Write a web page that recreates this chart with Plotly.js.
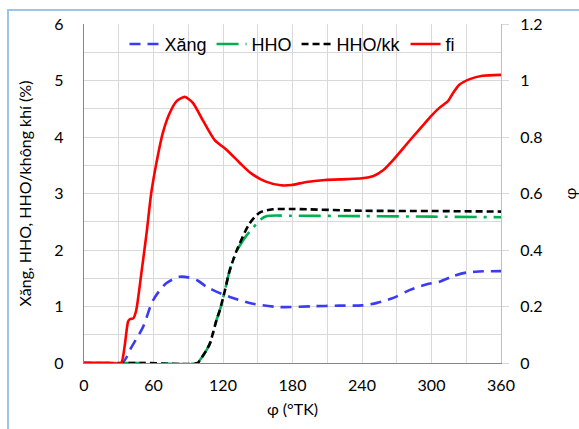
<!DOCTYPE html>
<html>
<head>
<meta charset="utf-8">
<script src="https://cdn.plot.ly/plotly-3.0.1.min.js"></script>
<style>
html,body{margin:0;padding:0;background:#fff;overflow:hidden;width:579px;height:429px;}
#frame{position:absolute;left:7px;top:9px;width:600px;height:460px;border:2px solid #9dc3e6;box-sizing:border-box;}
#chart{position:absolute;left:0;top:0;width:579px;height:429px;}
svg text{font-variant-ligatures:none !important;}
</style>
</head>
<body>
<div id="frame"></div>
<div id="chart"></div>
<script>
// Crank angle (°TK) and values
const xangX = [0, 20, 33, 41, 51, 59.6, 71, 82.5, 90, 98, 105.7, 111.5, 125.8, 146, 169, 198, 220, 240, 253, 267, 281, 296, 307, 318.5, 330, 341, 360];
const xangY = [0, 0, 0, 0.28, 0.64, 1.11, 1.41, 1.525, 1.515, 1.46, 1.35, 1.29, 1.17, 1.05, 0.99, 1.005, 1.015, 1.02, 1.064, 1.153, 1.29, 1.395, 1.44, 1.537, 1.60, 1.62, 1.626];

const hhoX = [0, 50, 98, 100, 105.5, 108.6, 114.4, 117.2, 121.5, 125.8, 131.6, 134.5, 140, 145.5, 151.7, 158, 180, 240, 300, 360];
const hhoY = [0, 0, 0, 0.05, 0.22, 0.34, 0.76, 0.93, 1.27, 1.64, 1.97, 2.08, 2.25, 2.38, 2.53, 2.60, 2.605, 2.60, 2.59, 2.58];

const hhokkX = [0, 50, 98, 100, 105.5, 108.6, 114.4, 117.2, 121.5, 125.8, 131.6, 134.5, 143, 151.7, 163, 180, 240, 300, 360];
const hhokkY = [0, 0, 0, 0.05, 0.22, 0.34, 0.76, 0.93, 1.27, 1.64, 1.98, 2.12, 2.47, 2.66, 2.72, 2.725, 2.695, 2.69, 2.68];

const fiX = [0, 10, 20, 32, 35, 38, 39.5, 42.5, 45, 49.5, 54, 58, 62.5, 68, 74, 80, 87, 94, 103, 113, 123, 134.5, 144, 157, 170, 179, 192, 208, 227, 240, 250, 258.5, 267, 275.5, 284, 293, 300, 307, 314, 318.5, 324, 333, 344, 360];
const fiY = [0, 0, 0, 0, 0.057, 0.146, 0.155, 0.158, 0.185, 0.317, 0.459, 0.60, 0.708, 0.814, 0.885, 0.927, 0.942, 0.921, 0.856, 0.788, 0.755, 0.708, 0.672, 0.642, 0.629, 0.630, 0.641, 0.648, 0.651, 0.654, 0.662, 0.683, 0.719, 0.760, 0.801, 0.843, 0.876, 0.904, 0.926, 0.955, 0.985, 1.005, 1.017, 1.020];

const names = ['Xăng', 'HHO', 'HHO/kk', 'fi'];
const xTicks = [0, 60, 120, 180, 240, 300, 360];

const FONT = 'Lato, "Open Sans", sans-serif';
const LFONT = '"Liberation Sans", Arial, sans-serif';
const GRID = '#d9d9d9';

const traces = [
  {x: xangX, y: xangY, name: names[0], type: 'scatter', mode: 'lines',
   line: {color: '#3b3bef', width: 2.6, dash: '11px,7px', shape: 'spline', smoothing: 0.8}},
  {x: hhoX, y: hhoY, name: names[1], type: 'scatter', mode: 'lines',
   line: {color: '#00b050', width: 2.6, dash: '22px,7px,3px,7px', shape: 'spline', smoothing: 0.8}},
  {x: hhokkX, y: hhokkY, name: names[2], type: 'scatter', mode: 'lines',
   line: {color: '#000000', width: 2.6, dash: '7px,4px', shape: 'spline', smoothing: 0.8}},
  {x: fiX, y: fiY, name: names[3], type: 'scatter', mode: 'lines', yaxis: 'y2',
   line: {color: '#ff0000', width: 2.6, shape: 'spline', smoothing: 0.6}}
];

const layout = {
  width: 579, height: 429,
  margin: {l: 84, r: 78, t: 24, b: 66, pad: 0},
  paper_bgcolor: 'rgba(0,0,0,0)',
  plot_bgcolor: '#ffffff',
  font: {family: FONT, size: 16, color: '#000'},
  showlegend: true,
  legend: {orientation: 'h', x: 0.5, xanchor: 'center', y: 0.94, yanchor: 'middle',
           bgcolor: 'rgba(0,0,0,0)', font: {family: LFONT, size: 18}, tracegroupgap: 0, itemwidth: 30},
  xaxis: {range: [0, 360], tickvals: xTicks, ticktext: xTicks.map(String),
          showgrid: true, gridcolor: GRID, gridwidth: 1,
          minor: {dtick: 30, showgrid: true, gridcolor: GRID, gridwidth: 1},
          showline: true, linecolor: '#868686', linewidth: 1.2, zeroline: false,
          ticks: '', ticklabelstandoff: 8,
          title: {text: 'φ (°TK)', font: {family: FONT, size: 16}, standoff: 10}},
  yaxis: {range: [0, 6], dtick: 1, tick0: 0,
          showgrid: true, gridcolor: GRID, gridwidth: 1,
          minor: {dtick: 0.5, showgrid: true, gridcolor: GRID, gridwidth: 1},
          showline: true, linecolor: '#868686', linewidth: 1.2, zeroline: false,
          ticks: '', ticklabelstandoff: 16,
          title: {text: 'Xăng, HHO, HHO/không khí (%)', font: {family: FONT, size: 16}, standoff: 18}},
  yaxis2: {range: [0, 1.2], dtick: 0.2, tick0: 0, overlaying: 'y', side: 'right',
           showgrid: false, zeroline: false, showline: true, linecolor: '#bfbfbf', linewidth: 1,
           ticks: 'outside', ticklen: 7, tickcolor: GRID, ticklabelstandoff: 8,
           title: {text: 'φ', font: {family: FONT, size: 16}, standoff: 26}}
};

Plotly.newPlot('chart', traces, layout, {displayModeBar: false, staticPlot: true});
</script>
</body>
</html>
